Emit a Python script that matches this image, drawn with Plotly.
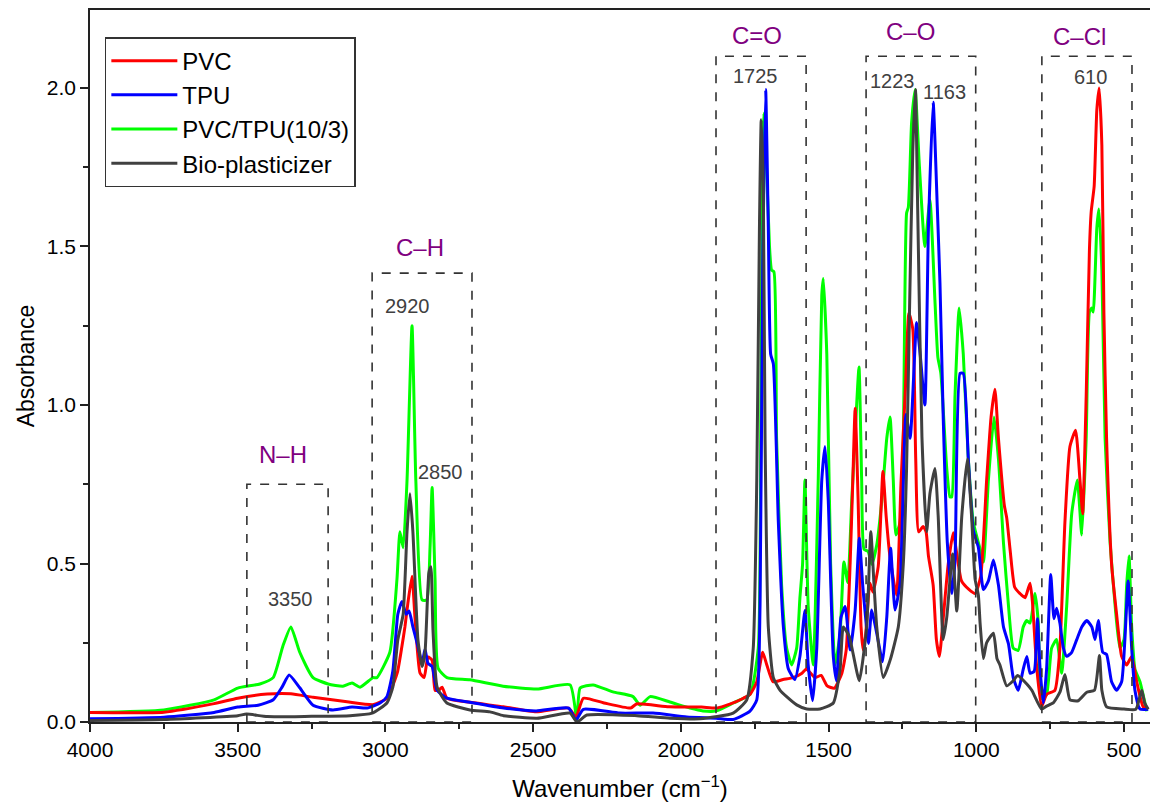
import plotly.graph_objects as go

# ---------------- data (wavenumber cm-1, absorbance) ----------------
pvc_wn = [4000, 3750, 3580, 3500, 3400, 3320, 3245, 3130, 3040, 2995, 2960, 2944, 2934, 2924, 2910, 2900,
          2883, 2869, 2856, 2842, 2832, 2820, 2808, 2792, 2714, 2600, 2490, 2380, 2355, 2330, 2260, 2170,
          2150, 2040, 1930, 1880, 1823, 1766, 1743, 1723, 1709, 1688, 1654, 1620, 1590, 1575, 1546, 1525,
          1505, 1480, 1455, 1440, 1427, 1418, 1410, 1400, 1390, 1383, 1375, 1360, 1350, 1332, 1316, 1305,
          1292, 1270, 1255, 1240, 1228, 1215, 1205, 1195, 1180, 1170, 1162, 1146, 1135, 1125, 1112, 1095,
          1078, 1065, 1050, 1025, 1004, 985, 965, 950, 937, 925, 905, 897, 885, 870, 852, 835, 818, 810,
          795, 779, 762, 734, 717, 700, 683, 664, 649, 640, 628, 617, 611, 601, 592, 584, 575, 568, 559,
          542, 525, 508, 491, 474, 457, 435, 418]
pvc_ab = [0.030, 0.031, 0.058, 0.075, 0.088, 0.089, 0.078, 0.064, 0.055, 0.075, 0.155, 0.24, 0.30, 0.375, 0.46, 0.33,
          0.155, 0.14, 0.205, 0.195, 0.10, 0.10, 0.11, 0.075, 0.062, 0.048, 0.032, 0.044, 0.016, 0.075, 0.06, 0.044,
          0.057, 0.048, 0.047, 0.044, 0.06, 0.087, 0.127, 0.22, 0.18, 0.127, 0.134, 0.14, 0.154, 0.167, 0.14, 0.147,
          0.114, 0.107, 0.154, 0.23, 0.50, 0.76, 0.99, 0.70, 0.30, 0.227, 0.27, 0.438, 0.41, 0.49, 0.79, 0.648,
          0.52, 0.40, 0.75, 1.05, 1.29, 1.24, 0.83, 0.60, 0.617, 0.60, 0.524, 0.432, 0.26, 0.207, 0.326, 0.498,
          0.597, 0.524, 0.445, 0.418, 0.405, 0.46, 0.763, 0.962, 1.05, 0.895, 0.683, 0.644, 0.538, 0.425, 0.405, 0.392, 0.438, 0.379,
          0.167, 0.048, 0.087, 0.10, 0.233, 0.63, 0.869, 0.92, 0.763, 0.657, 1.028, 1.49, 1.61, 1.69, 1.93, 2.0, 1.82, 1.29, 0.895,
          0.498, 0.339, 0.207, 0.18, 0.207, 0.127, 0.048, 0.041]

tpu_wn = [4000, 3750, 3580, 3500, 3431, 3380, 3350, 3326, 3290, 3245, 3178, 3113, 3062, 3018, 2995, 2975,
          2958, 2944, 2930, 2920, 2907, 2893, 2876, 2866, 2856, 2842, 2825, 2792, 2714, 2600, 2490, 2380,
          2355, 2330, 2206, 2094, 1980, 1880, 1823, 1766, 1743, 1732, 1723, 1713, 1704, 1696, 1687, 1670,
          1653, 1636, 1614, 1597, 1580, 1569, 1554, 1540, 1523, 1512, 1501, 1484, 1473, 1458, 1444, 1427,
          1410, 1396, 1385, 1377, 1365, 1354, 1337, 1317, 1303, 1290, 1275, 1258, 1238, 1224, 1202, 1190,
          1174, 1162, 1146, 1132, 1123, 1112, 1098, 1083, 1072, 1055, 1044, 1027, 1010, 993, 976, 959,
          942, 925, 908, 891, 875, 858, 841, 829, 818, 804, 793, 784, 773, 762, 748, 737, 728, 717, 705,
          694, 677, 660, 643, 626, 609, 598, 587, 572, 559, 542, 525, 508, 497, 486, 474, 463, 446, 418]
tpu_ab = [0.010, 0.015, 0.030, 0.047, 0.053, 0.07, 0.11, 0.148, 0.108, 0.053, 0.038, 0.047, 0.044, 0.06, 0.08, 0.16,
          0.34, 0.38, 0.34, 0.35, 0.30, 0.25, 0.185, 0.23, 0.185, 0.175, 0.10, 0.075, 0.062, 0.044, 0.035, 0.044,
          0.006, 0.04, 0.028, 0.028, 0.016, 0.012, 0.008, 0.034, 0.07, 0.366, 1.43, 1.995, 1.56, 1.16, 1.13, 0.63,
          0.30, 0.167, 0.134, 0.207, 0.352, 0.18, 0.067, 0.233, 0.763, 0.869, 0.697, 0.207, 0.13, 0.33, 0.364, 0.227,
          0.353, 0.58, 0.438, 0.353, 0.248, 0.353, 0.28, 0.19, 0.33, 0.548, 0.353, 0.438, 0.97, 0.895, 1.26, 1.16,
          1.0, 1.558, 1.955, 1.624, 1.386, 0.962, 0.565, 0.405, 0.51, 1.10, 1.10, 0.83, 0.604, 0.551, 0.418, 0.445,
          0.511, 0.432, 0.30, 0.246, 0.14, 0.10, 0.167, 0.207, 0.154, 0.16, 0.326, 0.167, 0.06, 0.167, 0.465, 0.326, 0.359, 0.312, 0.233,
          0.207, 0.22, 0.26, 0.30, 0.32, 0.30, 0.26, 0.32, 0.22, 0.213, 0.127, 0.10, 0.127, 0.26, 0.445, 0.233, 0.10, 0.041, 0.04]

blend_wn = [4000, 3750, 3580, 3500, 3425, 3380, 3347, 3320, 3290, 3245, 3194, 3144, 3113, 3086, 3042, 3029,
            2985, 2961, 2951, 2940, 2927, 2910, 2897, 2876, 2860, 2849, 2842, 2832, 2822, 2792, 2714, 2602,
            2487, 2375, 2352, 2341, 2297, 2230, 2162, 2138, 2104, 2037, 1969, 1925, 1880, 1823, 1766, 1738,
            1729, 1723, 1719, 1712, 1700, 1693, 1685, 1676, 1659, 1642, 1625, 1608, 1597, 1588, 1580, 1569,
            1552, 1535, 1523, 1518, 1506, 1493, 1478, 1461, 1448, 1435, 1422, 1410, 1397, 1388, 1380, 1366,
            1354, 1337, 1320, 1303, 1292, 1281, 1272, 1258, 1247, 1236, 1230, 1219, 1207, 1193, 1174, 1157,
            1140, 1130, 1120, 1100, 1089, 1083, 1072, 1058, 1044, 1027, 1010, 987, 976, 959, 940, 925, 908,
            891, 875, 858, 841, 829, 818, 801, 790, 779, 762, 745, 728, 711, 694, 677, 658, 643, 628, 617,
            609, 604, 592, 585, 575, 564, 547, 530, 514, 500, 491, 483, 474, 463, 446, 423]
blend_ab = [0.030, 0.038, 0.07, 0.107, 0.12, 0.14, 0.24, 0.30, 0.22, 0.14, 0.12, 0.113, 0.123, 0.11, 0.14, 0.14,
            0.22, 0.45, 0.60, 0.55, 0.76, 1.25, 0.76, 0.385, 0.385, 0.55, 0.74, 0.45, 0.17, 0.14, 0.133, 0.113,
            0.104, 0.117, 0.006, 0.107, 0.117, 0.095, 0.08, 0.053, 0.08, 0.063, 0.044, 0.035, 0.035, 0.06, 0.087, 0.233,
            1.03, 1.82, 1.92, 1.80, 1.50, 1.426, 1.42, 0.895, 0.432, 0.233, 0.18, 0.233, 0.392, 0.498, 0.763, 0.366,
            0.18, 0.763, 1.346, 1.399, 1.16, 0.498, 0.18, 0.28, 0.505, 0.44, 0.69, 0.91, 1.12, 0.763, 0.545, 0.538,
            0.498, 0.558, 0.697, 0.895, 0.962, 0.763, 0.59, 0.63, 0.895, 1.605, 1.624, 1.89, 1.995, 1.76, 1.50, 1.647,
            1.33, 1.15, 1.10, 0.80, 0.71, 0.71, 1.03, 1.306, 1.16, 0.83, 0.63, 0.545, 0.505, 0.763, 0.962, 0.83, 0.565,
            0.366, 0.233, 0.226, 0.30, 0.32, 0.312, 0.405, 0.312, 0.074, 0.087, 0.233, 0.26, 0.154, 0.366, 0.657, 0.763, 0.59, 0.895, 1.293,
            1.306, 1.293, 1.558, 1.618, 1.426, 0.895, 0.565, 0.366, 0.233, 0.26, 0.432, 0.524, 0.30, 0.167, 0.127, 0.034]

bio_wn = [4000, 3750, 3500, 3470, 3400, 3250, 3120, 3045, 2995, 2975, 2958, 2940, 2927, 2917, 2907, 2890,
          2876, 2866, 2853, 2846, 2839, 2825, 2792, 2714, 2646, 2600, 2487, 2375, 2352, 2318, 2149, 2037,
          1935, 1823, 1777, 1755, 1743, 1734, 1728, 1721, 1715, 1704, 1687, 1664, 1642, 1608, 1574, 1529,
          1484, 1461, 1450, 1430, 1418, 1396, 1371, 1357, 1346, 1337, 1315, 1290, 1264, 1247, 1236, 1226,
          1215, 1206, 1198, 1184, 1168, 1157, 1140, 1129, 1112, 1100, 1080, 1066, 1049, 1030, 1016, 1004,
          993, 987, 976, 965, 942, 930, 920, 897, 875, 860, 829, 812, 779, 762, 740, 717, 700, 683, 655,
          626, 600, 583, 575, 559, 500, 460, 440, 430, 418]
bio_ab = [0.005, 0.008, 0.02, 0.025, 0.017, 0.018, 0.02, 0.028, 0.06, 0.11, 0.26, 0.34, 0.60, 0.72, 0.60, 0.26,
          0.175, 0.22, 0.47, 0.49, 0.29, 0.11, 0.06, 0.038, 0.032, 0.02, 0.012, 0.028, 0.0, 0.022, 0.02, 0.012,
          0.01, 0.028, 0.07, 0.233, 0.763, 1.558, 1.90, 1.69, 0.895, 0.30, 0.14, 0.10, 0.08, 0.054, 0.041, 0.041,
          0.06, 0.167, 0.30, 0.27, 0.22, 0.13, 0.30, 0.60, 0.43, 0.30, 0.14, 0.20, 0.30, 0.50, 0.80, 1.30,
          1.80, 1.995, 1.60, 0.90, 0.60, 0.72, 0.80, 0.65, 0.26, 0.33, 0.53, 0.35, 0.65, 0.83, 0.65, 0.45,
          0.40, 0.31, 0.20, 0.25, 0.28, 0.20, 0.18, 0.114, 0.13, 0.147, 0.12, 0.10, 0.041, 0.05, 0.06, 0.094, 0.15, 0.07, 0.067,
          0.094, 0.10, 0.21, 0.10, 0.048, 0.041, 0.04, 0.10, 0.06, 0.04]

# functional-group regions: label, high wavenumber, low wavenumber, box top
band_labels = ["N\u2013H", "C\u2013H", "C=O", "C\u2013O", "C\u2013Cl"]
band_hi = [3469, 3045, 1881, 1373, 778]
band_lo = [3194, 2707, 1576, 1002, 473]
band_top = [0.75, 1.416, 2.10, 2.10, 2.10]
band_label_wn = [3346, 2883, 1742, 1224, 649]
band_label_ab = [0.845, 1.498, 2.167, 2.177, 2.161]

peak_labels = ["3350", "2920", "2850", "1725", "1223", "1163", "610"]
peak_label_wn = [3320, 2927, 2812, 1746, 1282, 1106, 612]
peak_label_ab = [0.388, 1.312, 0.789, 2.038, 2.022, 1.987, 2.034]

FONT = "Arial, 'Liberation Sans', sans-serif"

fig = go.Figure()
series = [
    ("PVC/TPU(10/3)", blend_wn, blend_ab, "#00FF00", 3),
    ("PVC", pvc_wn, pvc_ab, "#FF0000", 1),
    ("TPU", tpu_wn, tpu_ab, "#0000FF", 2),
    ("Bio-plasticizer", bio_wn, bio_ab, "#404040", 4),
]
for name, x, y, c, rank in series:
    fig.add_trace(go.Scatter(x=x, y=y, name=name, mode="lines", legendrank=rank,
                             line=dict(color=c, width=3, shape="spline", smoothing=0.5)))

for lab, hi, lo, top, lw, la in zip(band_labels, band_hi, band_lo, band_top, band_label_wn, band_label_ab):
    fig.add_shape(type="rect", xref="x", yref="y", x0=hi, x1=lo, y0=0, y1=top,
                  line=dict(color="#333333", width=1.6, dash="dash"), fillcolor="rgba(0,0,0,0)")
    fig.add_annotation(x=lw, y=la, xref="x", yref="y", text=lab, showarrow=False,
                       font=dict(family=FONT, size=24, color="#800080"))

for lab, lw, la in zip(peak_labels, peak_label_wn, peak_label_ab):
    fig.add_annotation(x=lw, y=la, xref="x", yref="y", text=lab, showarrow=False,
                       font=dict(family=FONT, size=20, color="#404040"))

fig.update_layout(
    width=1150, height=803,
    margin=dict(l=90, r=0, t=10, b=81),
    paper_bgcolor="white", plot_bgcolor="white",
    font=dict(family=FONT, color="black"),
    showlegend=True,
    legend=dict(x=0.014, y=0.962, xanchor="left", yanchor="top",
                bgcolor="white", bordercolor="#333333", borderwidth=1.5,
                font=dict(family=FONT, size=24, color="black"),
                tracegroupgap=0, itemwidth=66),
)
fig.update_xaxes(
    range=[4000, 412], showgrid=False, zeroline=False,
    showline=True, linecolor="#222222", linewidth=1.6, mirror=True,
    ticks="outside", ticklen=8, tickwidth=1.5, tickcolor="#222222",
    tick0=0, dtick=500, tickfont=dict(family=FONT, size=21, color="black"),
    minor=dict(ticks="outside", ticklen=5, dtick=250, tick0=0, tickcolor="#222222", tickwidth=1.5),
    title=dict(text="Wavenumber (cm<sup>\u22121</sup>)", font=dict(family=FONT, size=24, color="black"), standoff=20),
)
fig.update_yaxes(
    range=[0, 2.246], showgrid=False, zeroline=False,
    showline=True, linecolor="#222222", linewidth=1.6, mirror=False,
    ticks="outside", ticklen=8, tickwidth=1.5, tickcolor="#222222",
    tick0=0, dtick=0.5, tickformat=".1f", tickfont=dict(family=FONT, size=21, color="black"),
    minor=dict(ticks="outside", ticklen=5, dtick=0.25, tick0=0, tickcolor="#222222", tickwidth=1.5),
    title=dict(text="Absorbance", font=dict(family=FONT, size=23, color="black"), standoff=6),
)

fig.write_html("out.html")
